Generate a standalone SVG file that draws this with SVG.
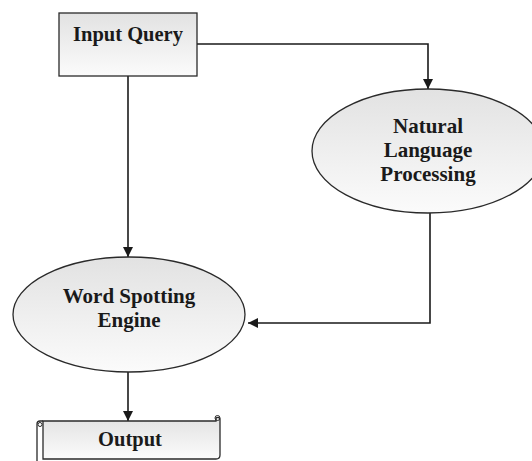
<svg xmlns="http://www.w3.org/2000/svg" width="532" height="461" viewBox="0 0 532 461">
<defs>
<linearGradient id="g" x1="0" y1="0" x2="0" y2="1">
<stop offset="0" stop-color="#e2e2e2"/>
<stop offset="1" stop-color="#fbfbfb"/>
</linearGradient>
<marker id="ah" markerUnits="userSpaceOnUse" markerWidth="10" markerHeight="10" viewBox="0 0 10 10" refX="10" refY="5" orient="auto">
<path d="M0,0 L10,5 L0,10 z" fill="#1a1a1a"/>
</marker>
</defs>
<style>
.shape{fill:url(#g);stroke:#2a2a2a;stroke-width:1.3}
.lbl{font-family:"Liberation Serif","Times New Roman",serif;font-weight:bold;font-size:20.5px;fill:#1a1a1a;text-anchor:middle}
.edge{fill:none;stroke:#1a1a1a;stroke-width:1.6;marker-end:url(#ah)}
</style>
<rect width="532" height="461" fill="#ffffff"/>
<g id="connectors">
<path class="edge" d="M197,44 H428 V89"/>
<path class="edge" d="M128,76 V257"/>
<path class="edge" d="M430,213 V323 H248"/>
<path class="edge" d="M128,372 V421"/>
</g>
<g id="input-query">
<rect class="shape" x="59" y="13" width="138" height="63"/>
<text class="lbl" x="128" y="41">Input Query</text>
</g>
<g id="nlp">
<ellipse class="shape" cx="428" cy="151" rx="116" ry="62"/>
<text class="lbl" x="428" y="133" style="font-size:21px">Natural</text>
<text class="lbl" x="428" y="157" style="font-size:21px">Language</text>
<text class="lbl" x="428" y="181" style="font-size:21px">Processing</text>
</g>
<g id="word-spotting">
<ellipse class="shape" cx="129" cy="314.5" rx="116" ry="57.5"/>
<text class="lbl" x="129" y="303" style="font-size:21px">Word Spotting</text>
<text class="lbl" x="129" y="327" style="font-size:21px">Engine</text>
</g>
<g id="output">
<path class="shape" d="M43,459 V421 H216 V418 A2.5,2.5 0 0 1 220,419 V455 Q220,459 216,459 Z"/>
<path d="M37,461 V424 Q37,421 40,421 H43" fill="none" stroke="#2a2a2a" stroke-width="1.3"/>
<circle cx="40" cy="424.5" r="2" fill="none" stroke="#2a2a2a" stroke-width="1"/>
<circle cx="217.5" cy="418" r="2.5" fill="none" stroke="#2a2a2a" stroke-width="1"/>
<text class="lbl" x="130" y="446">Output</text>
</g>
</svg>
